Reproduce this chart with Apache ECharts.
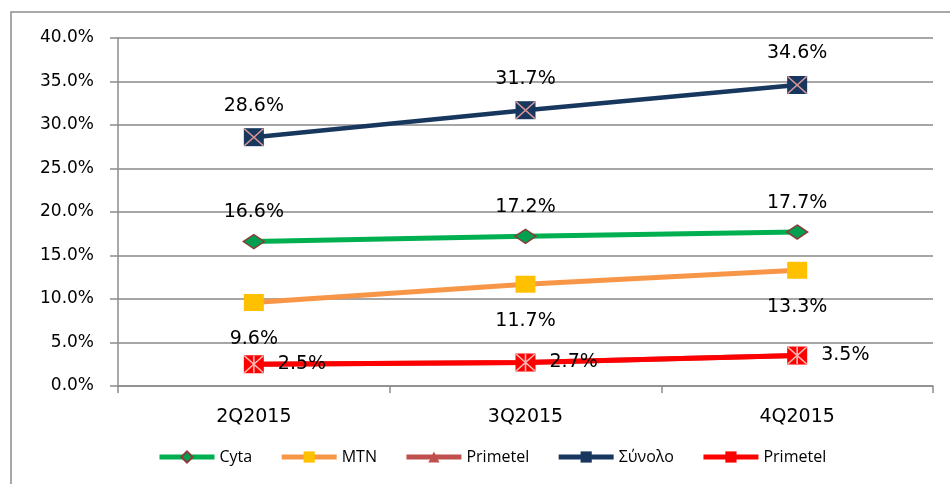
<!DOCTYPE html>
<html>
<head>
<meta charset="utf-8">
<script src="https://cdn.jsdelivr.net/npm/echarts@6/dist/echarts.min.js"></script>
<style>
  html, body { margin: 0; padding: 0; background: #fff; }
  #chart { width: 950px; height: 484px; }
</style>
</head>
<body>
<div id="chart"></div>
<script>
// quarters on the x axis
let quarters = ["2Q2015", "3Q2015", "4Q2015"]
// values in percent
let cyta = [16.6, 17.2, 17.7]
let mtn = [9.6, 11.7, 13.3]
let primetel = [2.5, 2.7, 3.5]
let total = [28.6, 31.7, 34.6]
let primetelRed = [2.5, 2.7, 3.5]

let labelFont = { fontFamily: "DejaVu Sans", fontSize: 19, color: "#000" }

function pct(v) {
  return Number(v).toFixed(1) + "%"
}

function lineSeries(name, data, lineColor, width, symbol, size, fill, border, label) {
  return {
    name: name,
    type: "line",
    data: data,
    symbol: symbol,
    symbolSize: size,
    showAllSymbol: true,
    lineStyle: { color: lineColor, width: width },
    itemStyle: { color: fill, borderColor: border, borderWidth: border ? 1.5 : 0 },
    label: label,
    emphasis: { disabled: true },
    z: 3
  }
}

// a cross drawn on top of a square marker
function overlay(data, path, color, size) {
  return {
    type: "line",
    data: data,
    symbol: path,
    symbolSize: size,
    showAllSymbol: true,
    lineStyle: { opacity: 0 },
    itemStyle: { color: "rgba(0,0,0,0)", borderColor: color, borderWidth: 1.5 },
    emphasis: { disabled: true },
    silent: true,
    z: 5
  }
}

let myChart = echarts.init(document.getElementById("chart"))
let option = {
  animation: false,
  graphic: [
    {
      type: "rect",
      shape: { x: 11, y: 12, width: 1000, height: 600 },
      style: { fill: "none", stroke: "#8c8c8c", lineWidth: 1.5 }
    }
  ],
  grid: { left: 118, right: 17, top: 38, bottom: 98 },
  legend: {
    bottom: 14,
    left: 152,
    itemWidth: 55,
    itemHeight: 14,
    itemGap: 27,
    lineStyle: { width: 5 },
    data: ["Cyta", "MTN", "Primetel", "Σύνολο", "Primetel "],
    textStyle: { fontFamily: "Open Sans", fontSize: 16, color: "#000" }
  },
  xAxis: {
    type: "category",
    data: quarters,
    boundaryGap: true,
    axisLine: { lineStyle: { color: "#8c8c8c", width: 1.5 } },
    axisTick: { show: true, alignWithLabel: false, length: 7, lineStyle: { color: "#8c8c8c", width: 1.5 } },
    axisLabel: { margin: 22, fontFamily: "DejaVu Sans", fontSize: 19, color: "#000" }
  },
  yAxis: {
    type: "value",
    min: 0,
    max: 40,
    interval: 5,
    axisLine: { show: true, lineStyle: { color: "#8c8c8c", width: 1.5 } },
    axisTick: { show: true, length: 8, lineStyle: { color: "#8c8c8c", width: 1.5 } },
    splitLine: { lineStyle: { color: "#a6a6a6", width: 2 } },
    axisLabel: { margin: 24, formatter: pct, fontFamily: "DejaVu Sans", fontSize: 17, color: "#000" }
  },
  series: [
    lineSeries("Cyta", cyta, "#00b050", 5, "diamond", [21, 14], "#00a050", "#8b3a3a",
      Object.assign({ show: true, position: "top", distance: 12, formatter: p => pct(p.value) }, labelFont)),
    lineSeries("MTN", mtn, "#f79646", 5, "rect", [20, 17], "#ffc000", null,
      Object.assign({ show: true, position: "bottom", distance: 19, formatter: p => pct(p.value) }, labelFont)),
    lineSeries("Primetel", primetel, "#c0504d", 5, "triangle", [14, 12], "#c0504d", null, { show: false }),
    lineSeries("Σύνολο", total, "#17375e", 4.5, "rect", [20, 18], "#17375e", null,
      Object.assign({ show: true, position: "top", distance: 13, formatter: p => pct(p.value) }, labelFont)),
    lineSeries("Primetel ", primetelRed, "#ff0000", 5, "rect", [20, 18], "#ff0000", null,
      Object.assign({ show: true, position: "right", distance: 14, formatter: p => pct(p.value) }, labelFont)),
    overlay(total, "path://M0,0L10,10M10,0L0,10", "#d99694", [19, 17]),
    overlay(primetelRed, "path://M0,0L10,10M10,0L0,10M5,0L5,10", "#f2b8b7", [19, 17])
  ]
}
myChart.setOption(option)
</script>
</body>
</html>
